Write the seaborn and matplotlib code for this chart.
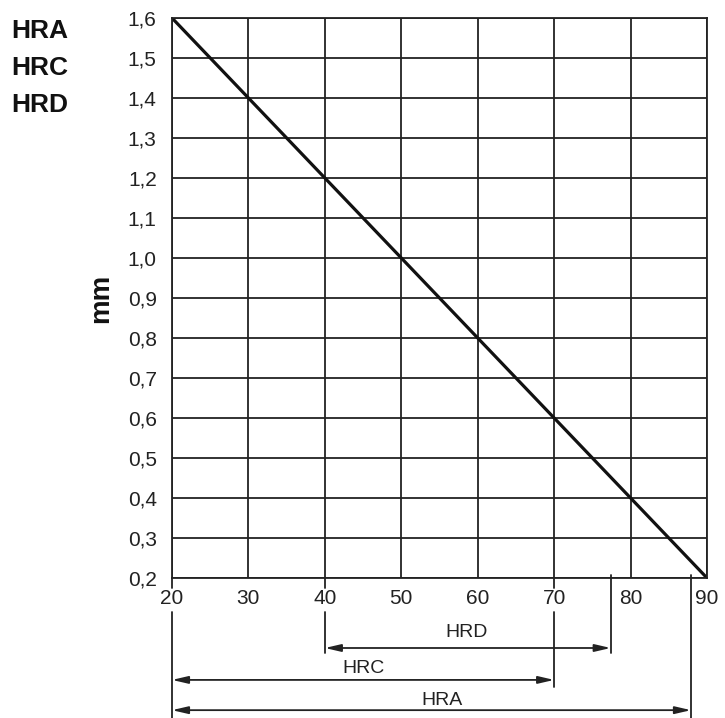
import numpy as np
import pandas as pd
import matplotlib
matplotlib.use("Agg")
import matplotlib.pyplot as plt
import matplotlib.transforms as mtransforms
import seaborn as sns

# hardness vs indentation depth
hardness = [20, 30, 40, 50, 60, 70, 80, 90]
depth_mm = [1.6, 1.4, 1.2, 1.0, 0.8, 0.6, 0.4, 0.2]
y_ticks = [0.2, 0.3, 0.4, 0.5, 0.6, 0.7, 0.8, 0.9, 1.0, 1.1, 1.2, 1.3, 1.4, 1.5, 1.6]
x_ticks = [20, 30, 40, 50, 60, 70, 80, 90]
scales = ["HRA", "HRC", "HRD"]
# range of each scale on the x axis
ranges = {"HRD": (40, 77.4), "HRC": (20, 70), "HRA": (20, 87.9)}

sns.set_style("white")
plt.rcParams["font.family"] = ["Liberation Sans", "DejaVu Sans"]

df = pd.DataFrame({"x": hardness, "mm": depth_mm})

fig = plt.figure(figsize=(7.25, 7.18), dpi=100)
ax = fig.add_axes([0.2372, 0.195, 0.738, 0.78])
sns.lineplot(data=df, x="x", y="mm", ax=ax, color="#111111", linewidth=2.3)

ax.set_xlim(20, 90)
ax.set_ylim(0.2, 1.6)
ax.set_xticks(x_ticks)
ax.set_yticks(y_ticks)
ax.set_xticklabels([str(v) for v in x_ticks], fontsize=15, color="#222222")
ax.set_yticklabels([f"{v:.1f}".replace(".", ",") for v in y_ticks],
                   fontsize=15, color="#222222")
ax.grid(True, color="#222222", linewidth=1.3)
for s in ax.spines.values():
    s.set_color("#222222")
    s.set_linewidth(1.3)
ax.tick_params(axis="y", length=4, width=1.3, color="#222222", pad=7)
ax.tick_params(axis="x", length=0, pad=8)
ax.set_xlabel("")
ax.set_ylabel("mm", fontsize=20, fontweight="bold", labelpad=10, color="#111111")

for i, name in enumerate(scales):
    fig.text(0.016, 0.947 - i * 0.0515, name, fontsize=19, fontweight="bold",
             va="baseline", ha="left", color="#111111")

trans = mtransforms.blended_transform_factory(ax.transData, ax.transAxes)
# short marks below the axis and the long extension lines
ext = [(20, 0, -0.018), (20, -0.061, -0.25),
       (40, 0, -0.018), (40, -0.061, -0.134),
       (70, 0, -0.018), (70, -0.061, -0.195),
       (77.4, 0.006, -0.134), (87.9, 0.006, -0.25)]
for xv, y0, y1 in ext:
    ax.plot([xv, xv], [y0, y1], transform=trans, color="#222222",
            linewidth=1.3, clip_on=False)

arrow_y = {"HRD": -0.125, "HRC": -0.182, "HRA": -0.236}
label_pos = {"HRD": (58.6, -0.098), "HRC": (45, -0.161), "HRA": (55.3, -0.218)}
for name in ["HRD", "HRC", "HRA"]:
    a, b = ranges[name]
    ax.annotate("", xy=(b, arrow_y[name]), xytext=(a, arrow_y[name]),
                xycoords=trans, textcoords=trans, annotation_clip=False,
                arrowprops=dict(arrowstyle="<|-|>,head_length=0.95,head_width=0.22",
                                color="#222222", linewidth=1.3,
                                shrinkA=0, shrinkB=0))
    lx, ly = label_pos[name]
    ax.text(lx, ly, name, transform=trans, fontsize=14, ha="center",
            va="center", clip_on=False, color="#222222")

fig.savefig("out.png", dpi=100)
